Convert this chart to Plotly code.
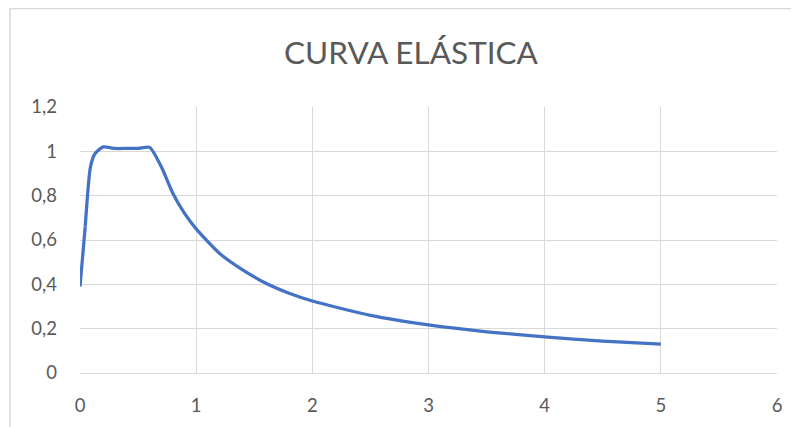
import plotly.graph_objects as go

# Data
periodo = [0, 0.045, 0.09, 0.13, 0.2, 0.3, 0.4, 0.5, 0.6, 0.7, 0.8, 0.9, 1.0, 1.2, 1.4,
           1.6, 1.8, 2.0, 2.5, 3.0, 3.5, 4.0, 4.5, 5.0]
aceleracion = [0.39, 0.66, 0.93, 0.99, 1.02, 1.013, 1.013, 1.013, 1.018, 0.93, 0.81, 0.72,
               0.65, 0.54, 0.465, 0.405, 0.36, 0.325, 0.26, 0.217, 0.186, 0.163, 0.144, 0.13]
titulo = "CURVA ELÁSTICA"
x_ticks = [0, 1, 2, 3, 4, 5, 6]
y_ticks = [0, 0.2, 0.4, 0.6, 0.8, 1.0, 1.2]

# page has an 8px body margin; figure sized to fit inside the window
OFF = 8
W, H = 799 - OFF, 427 - OFF
ml, mt = 80 - OFF, 107 - OFF
pw = 697
ph = 266
mr = W - ml - pw
mb = H - mt - ph

FONT = "Lato, Open Sans, sans-serif"
BLUE = "#4472C4"
LW = 3.25

fig = go.Figure()
# straight initial segment
fig.add_trace(go.Scatter(
    x=periodo[:2], y=aceleracion[:2], mode="lines",
    line=dict(color=BLUE, width=LW, shape="linear"),
    hoverinfo="x+y", showlegend=False, cliponaxis=False,
))
# smoothed remainder
fig.add_trace(go.Scatter(
    x=periodo[1:], y=aceleracion[1:], mode="lines",
    line=dict(color=BLUE, width=LW, shape="spline", smoothing=0.6),
    hoverinfo="x+y", showlegend=False, cliponaxis=False,
))

grid = "#d9d9d9"
font_col = "#595959"
fig.update_layout(
    width=W, height=H,
    margin=dict(l=ml, r=mr, t=mt, b=mb),
    paper_bgcolor="white", plot_bgcolor="white",
    separators=",.",
    font=dict(family=FONT, color=font_col, size=18),
    title=dict(text=titulo, x=(411 - OFF) / W, xanchor="center",
               y=1 - (53 - OFF) / H, yanchor="middle",
               font=dict(size=31.5, color=font_col, family=FONT)),
    xaxis=dict(range=[0, 6], tickvals=x_ticks, showgrid=True, gridcolor=grid, gridwidth=1,
               zeroline=False, showline=True, linecolor=grid, linewidth=1,
               ticks="", ticklabelstandoff=16, tickfont=dict(size=18.5, color=font_col)),
    yaxis=dict(range=[0, 1.2], tickvals=y_ticks, showgrid=True, gridcolor=grid, gridwidth=1,
               zeroline=False, showline=False, ticks="", ticklabelstandoff=22,
               tickfont=dict(size=18.5, color=font_col)),
    shapes=[
        dict(type="line", xref="paper", yref="paper",
             x0=(10 - 80) / pw, x1=(W - ml) / pw,
             y0=(373 - 8.5) / ph, y1=(373 - 8.5) / ph,
             line=dict(color="#d9d9d9", width=1.5)),
        dict(type="line", xref="paper", yref="paper",
             x0=(10 - 80) / pw, x1=(10 - 80) / pw,
             y0=(373 - 8.5) / ph, y1=-mb / ph,
             line=dict(color="#d9d9d9", width=1.5)),
    ],
)

fig.write_html("out.html")
